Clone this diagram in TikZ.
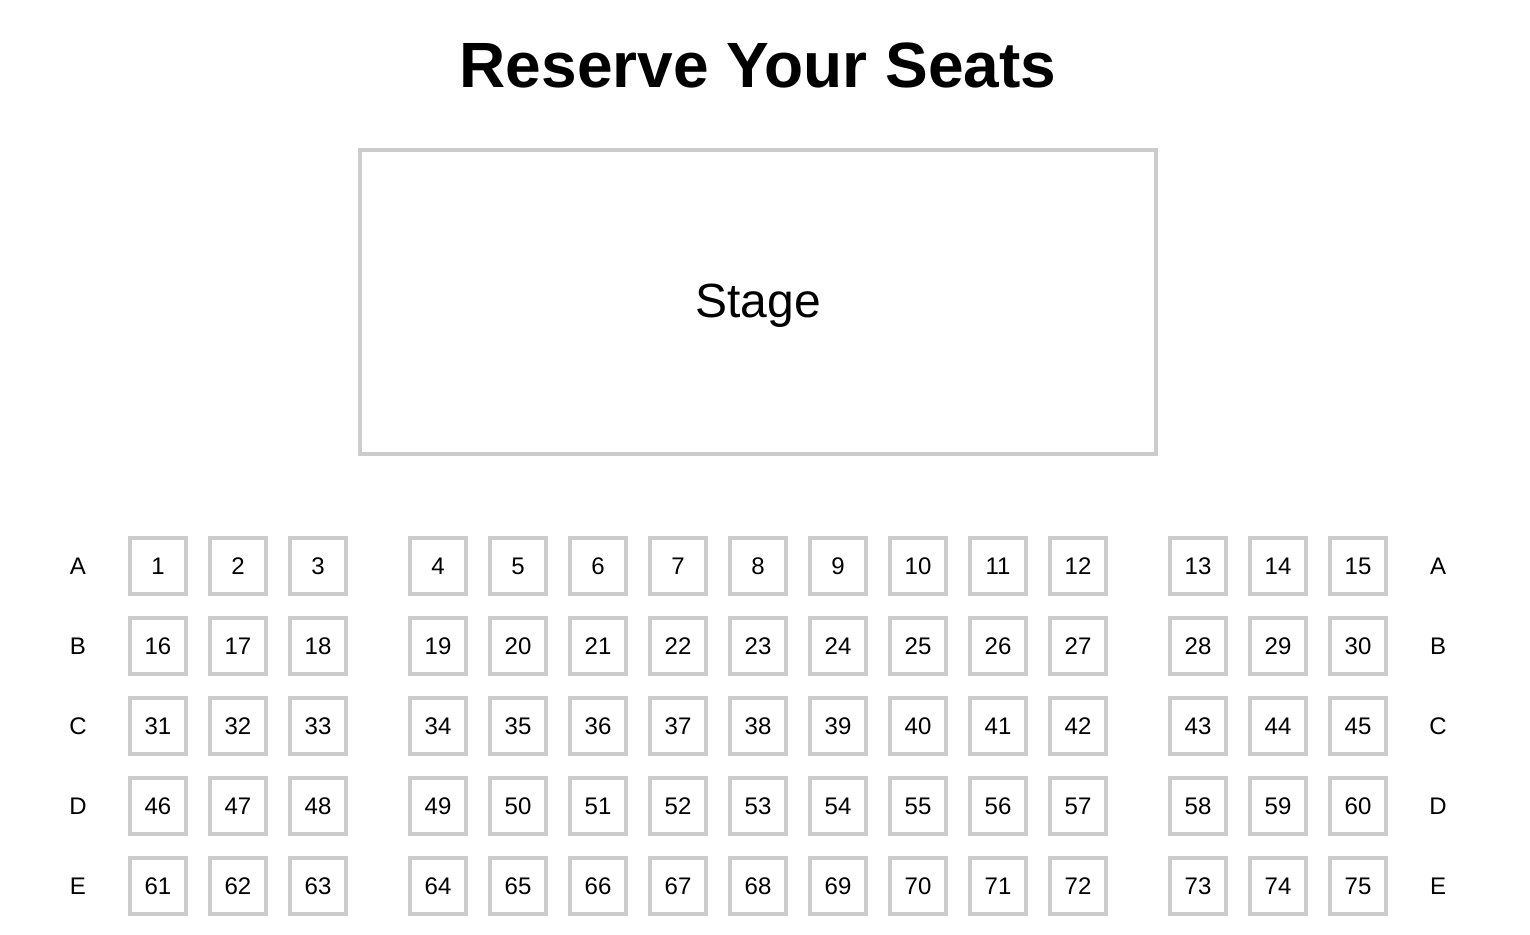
\documentclass[tikz,border=0pt]{standalone}
\usepackage{fontspec}
\setmainfont{Liberation Sans}
\usepackage{tikz}
\usetikzlibrary{positioning}
\definecolor{seatgray}{HTML}{CCCCCC}

\begin{document}
\begin{tikzpicture}[x=1pt,y=-1pt,
  seat/.style={draw=seatgray,line width=4pt,minimum size=56pt,inner sep=0pt,font=\fontsize{24}{28}\selectfont},
  rowlab/.style={inner sep=0pt,font=\fontsize{24}{28}\selectfont}]
\useasboundingbox (0,0) rectangle (1530,934);
\node[anchor=base,inner sep=0pt,font=\bfseries\fontsize{64}{72}\selectfont] (title) at (758,88) {Reserve Your Seats};
\node[draw=seatgray,line width=4pt,minimum width=796pt,minimum height=304pt,inner sep=0pt] (stage) at (758,302) {};
\node[anchor=base,inner sep=0pt,font=\fontsize{48}{56}\selectfont] (stagelab) at (758,317) {Stage};
% rows of seats, gaps after seat 3 and 12 of each row
\foreach \r [count=\j from 0] in {A,B,C,D,E} {
  \pgfmathsetmacro\sy{566+80*\j}
  \node[rowlab] (l\r) at (78,\sy) {\r};
  \node[rowlab] (r\r) at (1438,\sy) {\r};
  \foreach \i in {0,...,14} {
    \pgfmathtruncatemacro\n{15*\j+\i+1}
    \pgfmathsetmacro\sx{158+80*\i+40*(\i>2)+40*(\i>11)}
    \node[seat] (s\n) at (\sx,\sy) {\n};
  }
}
\end{tikzpicture}
\end{document}
